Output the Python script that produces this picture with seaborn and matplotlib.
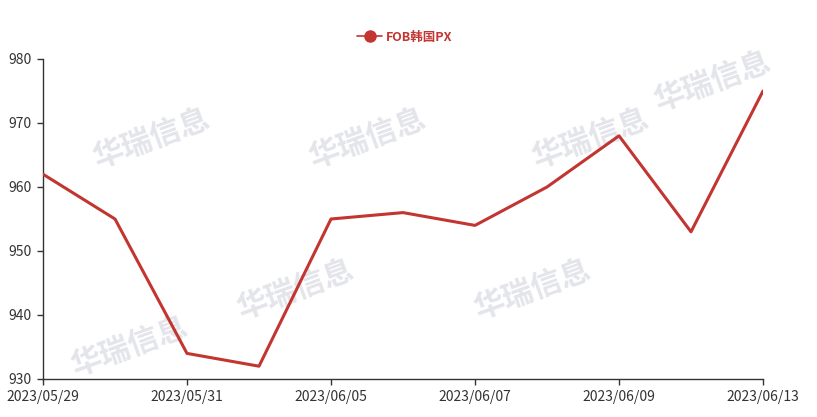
import matplotlib
matplotlib.use("Agg")
import matplotlib.pyplot as plt
import seaborn as sns
import pandas as pd

dates = ["2023/05/29", "2023/05/30", "2023/05/31", "2023/06/01", "2023/06/05", "2023/06/06",
         "2023/06/07", "2023/06/08", "2023/06/09", "2023/06/12", "2023/06/13"]
values = [962, 955, 934, 932, 955, 956, 954, 960, 968, 953, 975]
series_name = "FOB韩国PX"
yticks = [930, 940, 950, 960, 970, 980]

sns.set_theme(style="white")
plt.rcParams['font.family'] = ['Noto Sans CJK SC', 'DejaVu Sans']

df = pd.DataFrame({"x": range(len(dates)), "v": values})

W, H = 817, 417
fig = plt.figure(figsize=(W / 100, H / 100), dpi=100)
ax = fig.add_axes([43 / W, 1 - 379 / H, (763 - 43) / W, (379 - 59) / H])

# faint watermark
for (wx, wy) in [(0.15, 0.75), (0.45, 0.75), (0.76, 0.75), (0.93, 0.93), (0.35, 0.28), (0.68, 0.28), (0.12, 0.1)]:
    ax.text(wx, wy, "华瑞信息", transform=ax.transAxes, fontsize=22, color="#e4e5ea",
            rotation=20, ha="center", va="center", fontweight="bold", zorder=0)

sns.lineplot(data=df, x="x", y="v", ax=ax, color="#c23531", linewidth=2.2, zorder=3)

ax.set_xlim(0, len(dates) - 1)
ax.set_ylim(930, 980)
ax.set_yticks(yticks)
ax.set_yticklabels([str(t) for t in yticks])
xt = list(range(0, len(dates), 2))
ax.set_xticks(xt)
ax.set_xticklabels([dates[i] for i in xt])
ax.set_xlabel("")
ax.set_ylabel("")
for s in ["top", "right"]:
    ax.spines[s].set_visible(False)
for s in ["left", "bottom"]:
    ax.spines[s].set_color("#333333")
    ax.spines[s].set_linewidth(1)
ax.tick_params(axis="both", direction="out", length=4, width=1, color="#333333",
               labelsize=10, labelcolor="#333333", pad=4, left=True, bottom=True)
ax.grid(False)

# legend
from matplotlib.lines import Line2D
h = Line2D([0], [0], color="#c23531", linewidth=1.2, marker="o", markersize=8,
           markerfacecolor="#c23531", markeredgecolor="#c23531")
leg = fig.legend([h], [series_name], loc="center", bbox_to_anchor=(405 / W, 1 - 37 / H),
                 frameon=False, fontsize=9, handlelength=2.0, handletextpad=0.3)
for t in leg.get_texts():
    t.set_color("#c23531")
    t.set_fontweight("bold")

fig.savefig("out.png", dpi=100)
